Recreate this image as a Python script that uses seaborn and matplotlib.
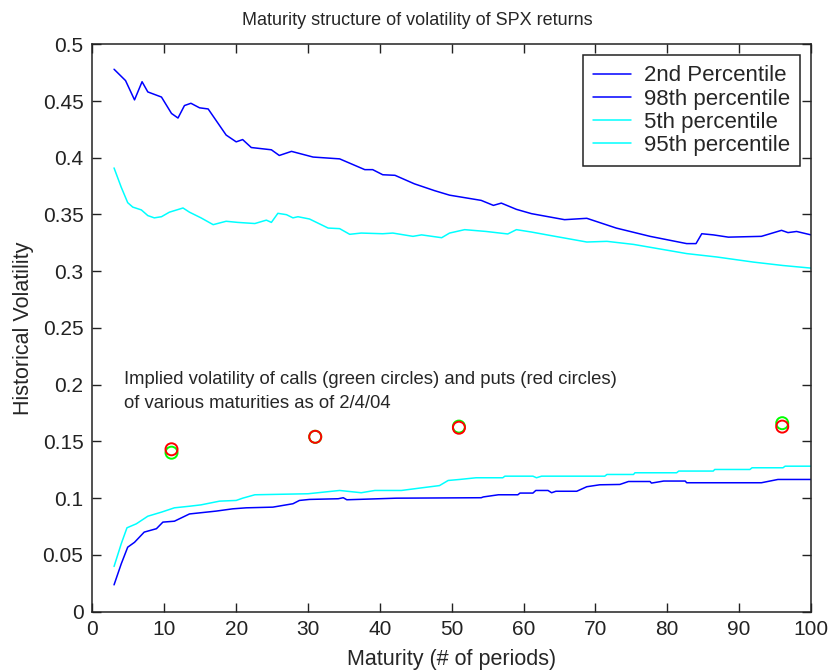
import matplotlib
matplotlib.use("Agg")
import matplotlib.pyplot as plt
import matplotlib.ticker as mticker
import seaborn as sns

sns.set_style("ticks")
plt.rcParams["font.family"] = ["Liberation Sans", "DejaVu Sans"]
plt.rcParams["font.size"] = 13

# values
p98_x = [3, 4.6, 5.85, 6.9, 7.7, 9.6, 11.0, 11.9, 12.8, 13.7, 14.9, 16.1, 18.6, 20.0,
         20.9, 22.1, 24.9, 26.0, 27.7, 30.7, 34.4, 37.9, 39.0, 40.4, 42.1, 44.8, 47.6,
         49.7, 54.1, 55.8, 56.9, 59.0, 61.1, 65.7, 68.8, 72.9, 77.6, 82.7, 84.0, 84.8,
         86.4, 88.5, 93.1, 95.9, 96.8, 98.0, 100]
p98_y = [0.478, 0.468, 0.451, 0.467, 0.458, 0.4535, 0.439, 0.435, 0.446, 0.448, 0.444,
         0.443, 0.420, 0.414, 0.416, 0.409, 0.407, 0.402, 0.4056, 0.4006, 0.399, 0.3895,
         0.3895, 0.385, 0.3845, 0.377, 0.371, 0.367, 0.3624, 0.358, 0.360, 0.3545, 0.3507,
         0.3454, 0.3466, 0.338, 0.3307, 0.3243, 0.3243, 0.333, 0.332, 0.330, 0.3307, 0.336,
         0.334, 0.335, 0.332]

p95_x = [3, 4.0, 4.9, 5.6, 6.8, 7.7, 8.6, 9.6, 10.7, 12.6, 13.5, 15.1, 16.8, 18.6, 20.2,
         22.6, 24.2, 24.9, 25.8, 27.0, 27.9, 28.6, 30.2, 32.8, 34.4, 35.8, 37.4, 40.4,
         41.8, 44.6, 45.8, 48.6, 49.7, 51.8, 54.8, 57.8, 59.0, 61.1, 63.6, 68.8, 71.6,
         75.3, 82.7, 86.9, 92.0, 96.1, 100]
p95_y = [0.391, 0.374, 0.3604, 0.3565, 0.354, 0.349, 0.347, 0.348, 0.352, 0.3557, 0.352,
         0.347, 0.341, 0.344, 0.343, 0.342, 0.345, 0.343, 0.351, 0.3498, 0.347, 0.348,
         0.346, 0.338, 0.3375, 0.3325, 0.3336, 0.333, 0.3336, 0.3307, 0.332, 0.3295,
         0.3336, 0.3366, 0.335, 0.3328, 0.3366, 0.3345, 0.3316, 0.3257, 0.3263, 0.3236,
         0.3155, 0.3125, 0.308, 0.305, 0.3027]

p2_x = [3, 4.0, 4.9, 5.85, 7.2, 8.9, 9.8, 11.4, 13.5, 17.2, 19.5, 21.4, 25.1, 27.9, 28.8,
        30.2, 34.2, 34.9, 35.4, 42.3, 54.1, 54.4, 56.5, 59.2, 59.5, 61.3, 61.7, 63.4,
        63.9, 64.5, 67.4, 68.8, 70.6, 73.4, 74.6, 77.6, 77.8, 79.5, 82.5, 82.7, 93.1,
        95.4, 100]
p2_y = [0.0235, 0.042, 0.0567, 0.061, 0.070, 0.073, 0.0788, 0.0796, 0.086, 0.0885,
        0.0905, 0.0914, 0.092, 0.095, 0.0979, 0.0988, 0.0994, 0.1003, 0.0985, 0.0999,
        0.1003, 0.101, 0.1029, 0.1029, 0.1044, 0.1044, 0.1067, 0.1067, 0.1047, 0.106,
        0.106, 0.110, 0.1117, 0.112, 0.1146, 0.1146, 0.1132, 0.115, 0.115, 0.1135,
        0.1135, 0.1164, 0.1164]

p5_x = [3, 4.0, 4.8, 6.1, 7.7, 9.6, 11.4, 13.5, 15.1, 17.7, 20.0, 20.9, 22.6, 30.0, 34.4,
        37.4, 39.3, 43.0, 45.8, 48.3, 49.5, 51.1, 53.4, 57.1, 57.4, 61.3, 61.8, 62.5,
        71.3, 71.6, 75.3, 75.5, 81.3, 81.6, 86.4, 86.6, 91.5, 91.8, 96.1, 96.4, 100]
p5_y = [0.0397, 0.0597, 0.0738, 0.0773, 0.084, 0.0876, 0.0914, 0.0928, 0.094, 0.0973,
        0.0979, 0.0999, 0.1029, 0.1038, 0.1067, 0.1047, 0.1067, 0.1067, 0.109, 0.111,
        0.1155, 0.1164, 0.1179, 0.1179, 0.1193, 0.1193, 0.1179, 0.1193, 0.1193, 0.1208,
        0.1208, 0.1223, 0.1223, 0.1238, 0.1238, 0.1252, 0.1252, 0.1267, 0.1267, 0.1281,
        0.1281]

opt_maturity = [11, 31, 51, 96]
call_vol = [0.140, 0.154, 0.163, 0.166]
put_vol = [0.143, 0.154, 0.162, 0.163]

BLUE = "#0000ff"
CYAN = "#00ffff"

fig = plt.figure(figsize=(8.31, 6.70), dpi=100)
ax = fig.add_axes([0.1113, 0.0873, 0.8646, 0.8466])

sns.lineplot(x=p2_x, y=p2_y, color=BLUE, lw=1.1, label="2nd Percentile", ax=ax)
sns.lineplot(x=p98_x, y=p98_y, color=BLUE, lw=1.1, label="98th percentile", ax=ax)
sns.lineplot(x=p5_x, y=p5_y, color=CYAN, lw=1.1, label="5th percentile", ax=ax)
sns.lineplot(x=p95_x, y=p95_y, color=CYAN, lw=1.1, label="95th percentile", ax=ax)

sns.scatterplot(x=opt_maturity, y=call_vol, marker="o", s=75, facecolors="none",
                edgecolors="#00ff00", linewidths=1.4, ax=ax, zorder=3)
sns.scatterplot(x=opt_maturity, y=put_vol, marker="o", s=75, facecolors="none",
                edgecolors="#ff0000", linewidths=1.4, ax=ax, zorder=4)

ax.text(4.4, 0.2006, "Implied volatility of calls (green circles) and puts (red circles)",
        va="baseline", ha="left", fontsize=13.3)
ax.text(4.4, 0.1795, "of various maturities as of 2/4/04",
        va="baseline", ha="left", fontsize=13.3)

ax.set_xlim(0, 100)
ax.set_ylim(0, 0.5)
ax.set_xticks(range(0, 101, 10))
ax.set_yticks([i * 0.05 for i in range(11)])
ax.yaxis.set_major_formatter(mticker.FormatStrFormatter("%g"))
ax.tick_params(direction="in", length=6.5, width=1, top=True, right=True,
               labelsize=15, colors="#222222")
ax.tick_params(axis="x", pad=6)
ax.tick_params(axis="y", pad=6.5)
for sp in ax.spines.values():
    sp.set_visible(True)
    sp.set_linewidth(1.1)
    sp.set_color("#222222")
ax.grid(False)

ax.set_title("Maturity structure of volatility of SPX returns", x=0.4516, pad=14, fontsize=13)
ax.set_xlabel("Maturity (# of periods)", fontsize=15.5, labelpad=7)
ax.set_ylabel("Historical Volatility", fontsize=15.5, labelpad=6)

leg = ax.legend(loc="upper right", bbox_to_anchor=(0.9847, 0.9806), fontsize=16,
                frameon=True, fancybox=False, edgecolor="#222222", framealpha=1,
                handlelength=1.72, handletextpad=0.56, labelspacing=0.1, borderpad=0.45,
                borderaxespad=0)
leg.get_frame().set_linewidth(1.1)

fig.savefig("out.png", dpi=100)
